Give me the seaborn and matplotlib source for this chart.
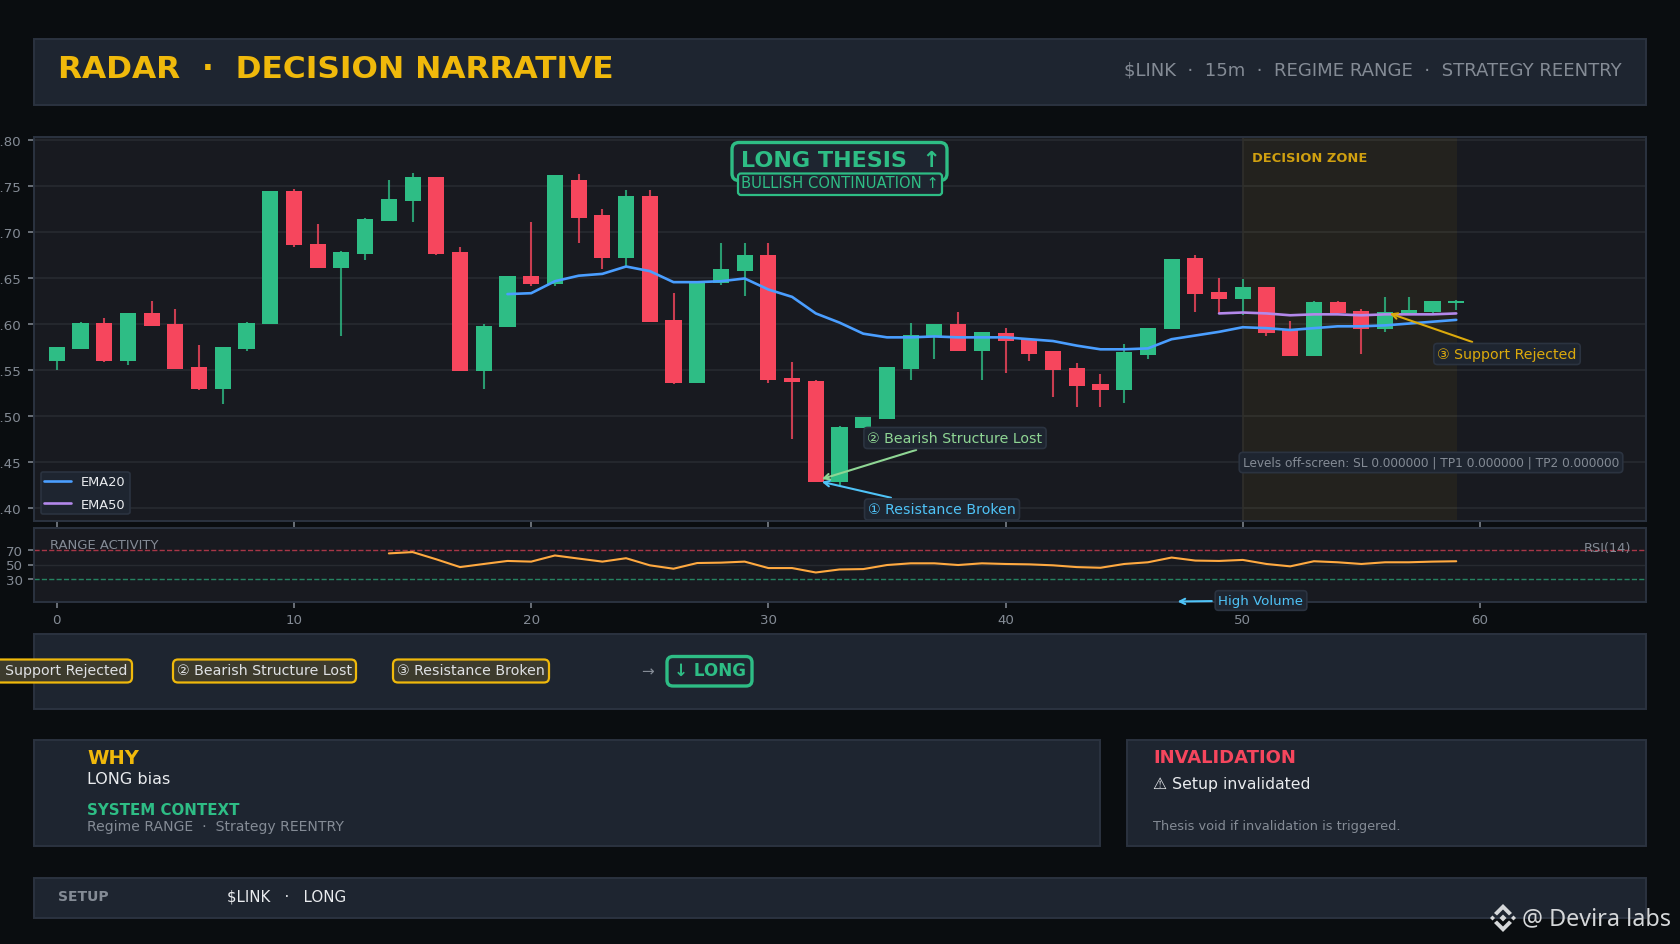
import numpy as np
import pandas as pd
import matplotlib
matplotlib.use('Agg')
import matplotlib.pyplot as plt
from matplotlib.patches import FancyBboxPatch, Polygon, Rectangle
import seaborn as sns

# candles
opens = [.560, .573, .602, .560, .613, .600, .554, .530, .573, .600, .745, .688, .661, .677, .713, .734, .760, .679, .549, .597,
         .653, .644, .757, .719, .672, .740, .605, .536, .645, .658, .675, .542, .539, .429, .487, .497, .552, .587, .600, .571,
         .591, .584, .571, .553, .535, .529, .567, .595, .672, .635, .628, .641, .594, .566, .624, .615, .595, .611, .614, .623]
highs = [.575, .603, .607, .613, .626, .617, .578, .575, .603, .745, .747, .709, .680, .716, .757, .765, .760, .684, .600, .653,
         .711, .762, .763, .726, .746, .746, .634, .646, .689, .689, .689, .559, .540, .490, .499, .554, .602, .601, .614, .592,
         .596, .584, .571, .558, .546, .579, .596, .671, .675, .651, .649, .641, .604, .625, .625, .617, .630, .630, .625, .627]
lows = [.551, .573, .559, .556, .598, .552, .529, .514, .571, .600, .684, .661, .587, .670, .713, .711, .676, .549, .530, .597,
        .642, .642, .689, .660, .663, .603, .535, .536, .643, .631, .536, .475, .429, .425, .487, .497, .540, .562, .571, .540,
        .547, .560, .521, .510, .510, .515, .563, .595, .614, .611, .610, .587, .566, .566, .612, .568, .592, .611, .612, .616]
closes = [.575, .602, .560, .613, .598, .552, .530, .575, .602, .745, .686, .661, .679, .715, .736, .760, .677, .549, .598, .653,
          .644, .762, .716, .672, .740, .603, .536, .646, .660, .675, .540, .537, .429, .489, .499, .554, .589, .600, .571, .592,
          .582, .568, .551, .533, .529, .570, .596, .671, .633, .628, .641, .591, .566, .624, .613, .595, .614, .616, .625, .626]

ema20_x = list(range(19, 60))
ema20 = [.633, .634, .647, .653, .655, .663, .658, .646, .646, .647, .650, .638, .630, .612, .602, .590, .586, .586, .587, .586,
         .586, .586, .584, .582, .577, .573, .573, .574, .584, .588, .592, .597, .596, .594, .596, .598, .598, .599, .601, .603, .605]
ema50_x = list(range(49, 60))
ema50 = [.612, .613, .612, .610, .611, .611, .610, .611, .611, .611, .612]

rsi_x = list(range(14, 60))
rsi = [65, 66.8, 57, 46.5, 50.7, 54.8, 53.9, 62.2, 58, 53.9, 58.5, 48.9, 44.3, 52, 52.5, 53.9, 45.2, 45.2, 39.2, 43.3, 43.8, 49.3, 51.6,
       51.6, 49.3, 51.6, 50.7, 50.2, 48.9, 46.5, 45.6, 50.7, 53, 59.4, 55.3, 54.8, 56.2, 50.7, 47.5, 54.4, 53, 50.7, 53, 53, 53.9, 54.4]

price_ticks = [.40, .45, .50, .55, .60, .65, .70, .75, .80]
price_labels = ['7.40', '7.45', '7.50', '7.55', '7.60', '7.65', '7.70', '7.75', '7.80']
step_ticks = [0, 10, 20, 30, 40, 50, 60]
rsi_ticks = [30, 50, 70]

BG = '#0a0d10'
PANEL = '#1e2530'
AXBG = '#181a20'
EDGE = '#2b3340'
GRID = '#272a30'
GREEN = '#2ebd85'
RED = '#f6465d'
YELLOW = '#f0b90b'
GRAY = '#848b95'
WHITE = '#eaecef'
CYAN = '#4fc3f7'
LGREEN = '#8fd694'

sns.set_theme(style='dark', rc={'figure.facecolor': BG, 'savefig.facecolor': BG, 'axes.facecolor': AXBG,
                                'axes.edgecolor': EDGE, 'axes.linewidth': 1.4, 'xtick.color': GRAY, 'ytick.color': GRAY,
                                'xtick.bottom': True, 'ytick.left': True, 'text.color': WHITE})
plt.rcParams['font.family'] = ['DejaVu Sans']

W, H = 1680, 945
DY = 1.5
fig = plt.figure(figsize=(W / 100, H / 100), dpi=100)


def px_axes(z):
    a = fig.add_axes([0, 0, 1, 1], zorder=z)
    a.set_xlim(0, W)
    a.set_ylim(H - DY, -DY)
    a.axis('off')
    a.patch.set_alpha(0)
    return a


def data_axes(left, top, right, bottom):
    return fig.add_axes([left / W, 1 - bottom / H, (right - left) / W, (bottom - top) / H], zorder=1)


bg = px_axes(-1)
ov = px_axes(5)

# panels
for x0, y0, x1, y1 in [(34, 38.5, 1646, 104), (34, 633, 1646, 708), (34, 739, 1100, 845), (1127, 739, 1646, 845), (34, 877, 1646, 917)]:
    bg.add_patch(Rectangle((x0, y0), x1 - x0, y1 - y0, facecolor=PANEL, edgecolor=EDGE, lw=1.4))

# price panel
ax = data_axes(34, 137.5, 1646, 522)
df = pd.DataFrame({'x': range(len(opens)), 'o': opens, 'h': highs, 'l': lows, 'c': closes})
df['color'] = np.where(df['c'] >= df['o'], GREEN, RED)
ax.axvspan(50, 59.05, color=YELLOW, alpha=0.055, lw=0, zorder=1)
ax.axvline(50, color='#302f2c', lw=1.2, zorder=1)
ax.vlines(df['x'], df['l'], df['h'], colors=df['color'], lw=1.5, alpha=0.8, zorder=2)
ax.bar(df['x'], df['c'] - df['o'], bottom=df['o'], width=0.68, color=df['color'], edgecolor='none', linewidth=0, zorder=3)
sns.lineplot(x=ema20_x, y=ema20, ax=ax, color='#4a9eff', lw=1.9, label='EMA20', zorder=4)
sns.lineplot(x=ema50_x, y=ema50, ax=ax, color='#b388eb', lw=1.9, label='EMA50', zorder=4)
ax.set_xlim(-0.961, 67)
ax.set_ylim(.3864, .8043)
ax.set_yticks(price_ticks, price_labels)
ax.set_xticks(step_ticks)
ax.tick_params(axis='x', labelbottom=False, length=4.6, width=1.1, color=GRAY)
ax.tick_params(axis='y', labelsize=9.6, length=4.6, width=1.1, pad=4.5, color=GRAY)
ax.grid(axis='y', color=GRID, lw=1.2, zorder=0)
ax.set_axisbelow(True)
leg = ax.legend(loc='lower left', fontsize=9.4, facecolor=PANEL, edgecolor=EDGE, labelcolor=WHITE,
                framealpha=1, borderpad=0.3, labelspacing=0.7, handlelength=2.0)
leg.get_frame().set_linewidth(1.2)

# annotations on the price panel
box = dict(boxstyle='round,pad=0.25', facecolor=PANEL, edgecolor=EDGE, lw=1.2)
for label, xy, pos, col in [('① Resistance Broken', (32.25, .4290), (942, 510.5), CYAN),
                            ('② Bearish Structure Lost', (32.25, .4320), (955, 439), LGREEN),
                            ('③ Support Rejected', (56.2, .6120), (1507, 355), '#dcaa0c')]:
    ax.annotate(label, xy=xy, xytext=(pos[0], H - pos[1]), textcoords='figure pixels', color=col, fontsize=10.15, ha='center', va='center',
                bbox=box, zorder=8, arrowprops=dict(arrowstyle='->', color=col, lw=1.5, shrinkB=0))

# rsi panel
ax2 = data_axes(34, 528.5, 1646, 602.5)
sns.lineplot(x=rsi_x, y=rsi, ax=ax2, color='#ffa940', lw=1.5, zorder=4)
ax2.axhline(70, color=RED, lw=1, ls='--', alpha=0.65, zorder=2)
ax2.axhline(30, color=GREEN, lw=1, ls='--', alpha=0.65, zorder=2)
ax2.axhline(50, color=GRID, lw=1, zorder=1)
ax2.set_xlim(-0.961, 67)
ax2.set_ylim(0, 100)
ax2.set_xticks(step_ticks)
ax2.set_yticks(rsi_ticks)
ax2.tick_params(labelsize=9.6, length=4.6, width=1.1, color=GRAY, labelcolor=GRAY)
ax2.annotate('High Volume', xy=(47.25, 0), xycoords='data', xytext=(1261, H - 601.5), textcoords='figure pixels', color=CYAN, fontsize=9.6,
             ha='center', va='center', annotation_clip=False, zorder=8, bbox=box, arrowprops=dict(arrowstyle='->', color=CYAN, lw=1.5, shrinkB=0))


def txt(x, y, s, size, color, weight='normal', ha='left', family=None):
    ov.text(x, y, s, fontsize=size, color=color, fontweight=weight, ha=ha, va='center', clip_on=False, family=family)


def chip(x0, y0, x1, y1, face, edge, lw=1.6, r=5):
    ov.add_patch(FancyBboxPatch((x0, y0), x1 - x0, y1 - y0, boxstyle=f'round,pad=0,rounding_size={r}', facecolor=face, edgecolor=edge, lw=lw))


# header
txt(58, 68, 'RADAR  ·  DECISION NARRATIVE', 22.5, YELLOW, 'bold')
txt(1622, 69, '$LINK  ·  15m  ·  REGIME RANGE  ·  STRATEGY REENTRY', 13.05, GRAY, ha='right')

# thesis banner
chip(732, 142, 947, 180, PANEL, GREEN, lw=2.4, r=7)
txt(741, 160, 'LONG THESIS  ↑', 16, GREEN, 'bold')
chip(738, 173, 942, 194.5, PANEL, GREEN, lw=1.6, r=3)
txt(840, 182.5, 'BULLISH CONTINUATION ↑', 10.65, GREEN, ha='center')

txt(1252, 157, 'DECISION ZONE', 9.4, '#d0a010', 'bold')
ov.text(1431, 462, 'Levels off-screen: SL 0.000000 | TP1 0.000000 | TP2 0.000000', fontsize=8.75, color=GRAY, ha='center', va='center',
        bbox=dict(boxstyle='round,pad=0.3', facecolor=PANEL, edgecolor=EDGE, lw=1.2))
txt(50, 544, 'RANGE ACTIVITY', 9.45, GRAY)
txt(1631, 547, 'RSI(14)', 9.3, GRAY, ha='right')

# decision strip
chip(-40, 659, 132, 682, '#3d3b2d', YELLOW)
txt(127, 670, '③ Support Rejected', 10.15, '#dfe1e4', ha='right')
chip(173, 659, 356, 682, '#3d3b2d', YELLOW)
txt(264.5, 670, '② Bearish Structure Lost', 10.2, '#dfe1e4', ha='center')
chip(393, 659, 549, 682, '#3d3b2d', YELLOW)
txt(471, 670, '③ Resistance Broken', 10.2, '#dfe1e4', ha='center')
txt(648, 670, '→', 11, GRAY, ha='center')
chip(667, 656, 752, 685.5, PANEL, GREEN, lw=2.4, r=6)
txt(709.5, 669, '↓ LONG', 12.1, GREEN, 'bold', ha='center')

# why / invalidation
txt(87, 757, 'WHY', 14, YELLOW, 'bold')
txt(87, 778, 'LONG bias', 11.55, WHITE)
txt(87, 809, 'SYSTEM CONTEXT', 10.85, GREEN, 'bold')
txt(87, 825.5, 'Regime RANGE  ·  Strategy REENTRY', 10.1, GRAY)
txt(1153, 757, 'INVALIDATION', 13, RED, 'bold')
txt(1153, 783, '⚠ Setup invalidated', 11.3, WHITE)
txt(1153, 825.5, 'Thesis void if invalidation is triggered.', 9.3, GRAY)

# setup
txt(58, 896, 'SETUP', 10, GRAY, 'bold')
txt(227, 896, '$LINK   ·   LONG', 10.8, WHITE)

# watermark
mark = '#d5d7d9'
cx, cy = 1503, 917.5
for dx, dy, r in [(0, 0, 3.5), (-10.5, 0, 2.5), (10.5, 0, 2.5)]:
    ov.add_patch(Polygon([(cx + dx - r, cy + dy), (cx + dx, cy + dy - r), (cx + dx + r, cy + dy), (cx + dx, cy + dy + r)], color=mark, lw=0))
for s in (-1, 1):
    ov.add_patch(Polygon([(cx - 9, cy + s * 5), (cx, cy + s * 14), (cx + 9, cy + s * 5), (cx + 6, cy + s * 2.5), (cx, cy + s * 8.5), (cx - 6, cy + s * 2.5)],
                         color=mark, lw=0))
txt(1522, 917.5, '@ Devira labs', 16.8, mark, family='Noto Sans')

fig.savefig('out.png', dpi=100)
